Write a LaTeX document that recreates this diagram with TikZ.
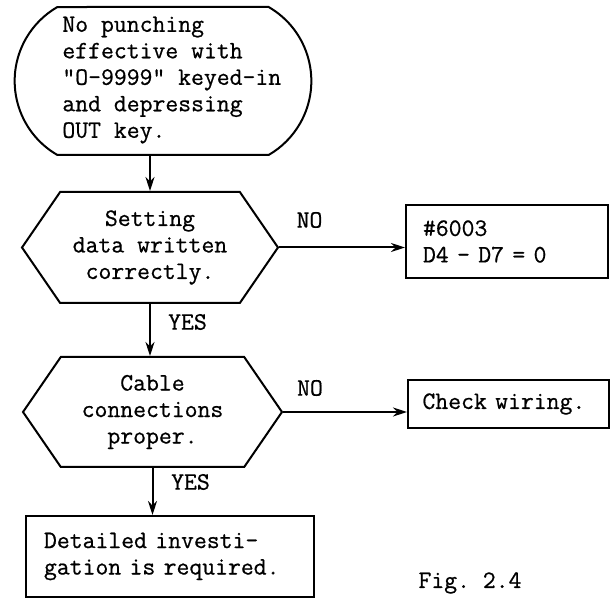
\documentclass[tikz,border=0pt]{standalone}
\usepackage{fontspec}
\setmonofont[WordSpace={1,0,0},FakeBold=0.7]{Latin Modern Mono}
\usetikzlibrary{shapes.misc,shapes.symbols,arrows.meta}

\begin{document}
\begin{tikzpicture}[x=0.5pt,y=-0.5pt,
  every node/.style={font=\ttfamily\frenchspacing\fontsize{12.5}{13.25}\selectfont},
  arr/.style={line width=1pt,-{Stealth[length=7pt,width=4.5pt]}},
  terminal/.style={draw,line width=1pt,rounded rectangle,rounded rectangle arc length=120,
    minimum width=155pt,minimum height=74pt},
  decision/.style={draw,line width=1pt,signal,signal to=west and east,signal pointer angle=111,
    align=center,inner sep=0pt},
  process/.style={draw,line width=1pt,rectangle,align=left,inner ysep=0pt}]
  \useasboundingbox (0,0) rectangle (611,598);

  \node[terminal] (start) at (163,81) {};
  \node[align=left,anchor=west,inner sep=0pt] (starttxt) at (62,80)
    {No punching\\effective with\\"O-9999" keyed-in\\and depressing\\OUT key.};

  \node[decision,minimum width=128pt,minimum height=55.5pt] (setdata) at (150,247.5)
    {Setting\\data written\\correctly.};
  \node[process,text width=84pt,inner xsep=8.5pt,minimum height=36.5pt] (param) at (507,241.5)
    {\#6003\\D4 - D7 = 0};

  \node[decision,minimum width=129.5pt,minimum height=55pt] (cable) at (152.5,412)
    {Cable\\connections\\proper.};
  \node[process,text width=86pt,inner xsep=0pt,minimum width=100.5pt,minimum height=24pt] (wiring) at (508.5,404)
    {Check wiring.};

  \node[process,text width=126pt,inner xsep=0pt,minimum width=144pt,minimum height=40.5pt] (detail) at (170,556.5)
    {Detailed investi-\\gation is required.};

  % branch labels
  \node (no1) at (309.5,220) {NO};
  \node (yes1) at (187.5,322) {YES};
  \node (no2) at (310,388) {NO};
  \node (yes2) at (190.5,482) {YES};
  \node (fig) at (470,583) {Fig. 2.4};

  \draw[arr] (start.south -| setdata.north) -- (setdata.north);
  \draw[arr] (setdata.east) -- (setdata.east -| param.west);
  \draw[arr] (setdata.south) -- (setdata.south |- cable.north);
  \draw[arr] (cable.east) -- (cable.east -| wiring.west);
  \draw[arr] (cable.south) -- (cable.south |- detail.north);
\end{tikzpicture}
\end{document}
